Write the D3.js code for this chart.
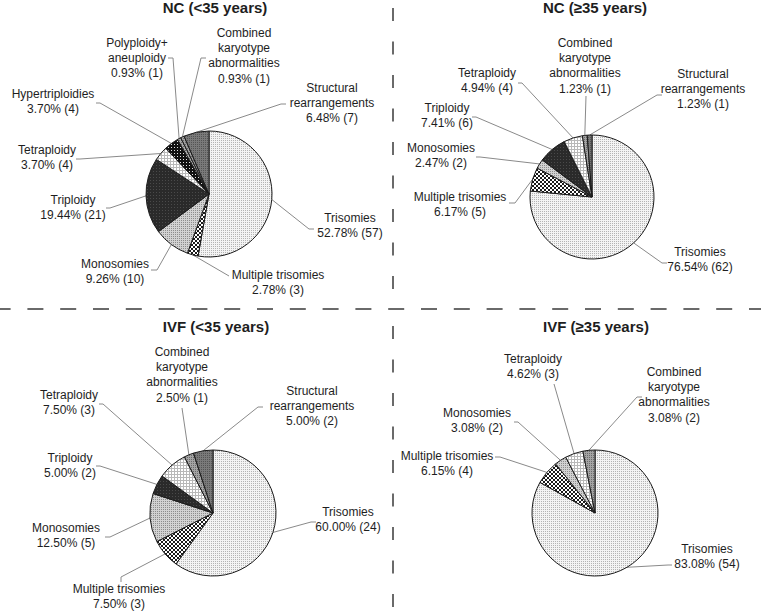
<!DOCTYPE html>
<html>
<head>
<meta charset="utf-8">
<script src="https://cdn.jsdelivr.net/npm/d3@7/dist/d3.min.js"></script>
<style>
  html, body { margin: 0; padding: 0; background: #fff; }
  svg { display: block; }
  text { font-family: "Liberation Sans", Arial, Helvetica, sans-serif; fill: #1e1e1e; }
</style>
</head>
<body>
<svg id="chart" width="761" height="613"></svg>
<script>
// ---------------- DATA ----------------
const categories = [
  "Trisomies", "Multiple trisomies", "Monosomies", "Triploidy", "Tetraploidy",
  "Hypertriploidies", "Polyploidy+ aneuploidy", "Combined karyotype abnormalities",
  "Structural rearrangements"
];
const categoryLines = [
  ["Trisomies"], ["Multiple trisomies"], ["Monosomies"], ["Triploidy"], ["Tetraploidy"],
  ["Hypertriploidies"], ["Polyploidy+", "aneuploidy"], ["Combined", "karyotype", "abnormalities"],
  ["Structural", "rearrangements"]
];
const panelTitles = ["NC (<35 years)", "NC (\u226535 years)", "IVF (<35 years)", "IVF (\u226535 years)"];
const ncYoungCounts  = [57, 3, 10, 21, 4, 4, 1, 1, 7];
const ncOldCounts    = [62, 5, 2, 6, 4, 0, 0, 1, 1];
const ivfYoungCounts = [24, 3, 5, 2, 3, 0, 0, 1, 2];
const ivfOldCounts   = [54, 4, 2, 0, 3, 0, 0, 2, 0];
const panelCounts = [ncYoungCounts, ncOldCounts, ivfYoungCounts, ivfOldCounts];

// ---------------- LAYOUT (positions, not data) ----------------
const layouts = [
  { cx: 209, cy: 194, r: 63, tx: 215, ty: 13, labels: {
      0: { x: 350, y: 222, pts: [[309, 229], [314, 229]] },
      1: { x: 278, y: 279, pts: [[229, 276]] },
      2: { x: 115, y: 268, pts: [[157, 270], [151, 270]] },
      3: { x: 73,  y: 204, pts: [[110, 208], [106, 208]] },
      4: { x: 47,  y: 154, pts: [[80, 159], [76, 159]] },
      5: { x: 53,  y: 98,  pts: [[100, 103], [96, 103]] },
      6: { x: 137, y: 47,  pts: [[173, 58], [168, 58]] },
      7: { x: 244, y: 37,  pts: [[201, 58], [206, 58]] },
      8: { x: 332, y: 92,  pts: [[281, 104], [286, 104]] }
  }},
  { cx: 592, cy: 197, r: 62, tx: 595, ty: 13, labels: {
      0: { x: 700, y: 256, pts: [[662, 263], [667, 263]] },
      1: { x: 460, y: 201, pts: [[515, 203], [509, 203]] },
      2: { x: 441, y: 152, pts: [[480, 157], [476, 157]] },
      3: { x: 447, y: 112, pts: [[476, 117], [472, 117]] },
      4: { x: 487, y: 77,  pts: [[522, 83], [518, 83]] },
      7: { x: 585, y: 47,  pts: [[586, 96]] },
      8: { x: 703, y: 78,  pts: [[657, 95], [662, 95]] }
  }},
  { cx: 213, cy: 513, r: 63, tx: 216, ty: 332, labels: {
      0: { x: 348, y: 516, pts: [[311, 522], [316, 522]] },
      1: { x: 119, y: 593, pts: [[121, 577], [121, 582]] },
      2: { x: 66,  y: 532, pts: [[110, 537], [105, 537]] },
      3: { x: 70,  y: 462, pts: [[100, 466], [96, 466]] },
      4: { x: 69,  y: 399, pts: [[103, 404], [99, 404]] },
      7: { x: 182, y: 356, pts: [[182, 408]] },
      8: { x: 312, y: 395, pts: [[258, 407], [263, 407]] }
  }},
  { cx: 595, cy: 513, r: 63, tx: 596, ty: 332, labels: {
      0: { x: 707, y: 553, pts: [[668, 565], [672, 565]] },
      1: { x: 447, y: 460, pts: [[500, 457], [495, 457]] },
      2: { x: 477, y: 417, pts: [[518, 422], [514, 422]] },
      4: { x: 533, y: 363, pts: [[554, 384]] },
      7: { x: 674, y: 376, pts: [[637, 397], [642, 397]] }
  }}
];

// ---------------- PATTERNS ----------------
const svg = d3.select("#chart");
const defs = svg.append("defs");

function pat(id, w, h, bg, shapes) {
  const p = defs.append("pattern").attr("id", id).attr("patternUnits", "userSpaceOnUse")
    .attr("width", w).attr("height", h);
  p.append("rect").attr("width", w).attr("height", h).attr("fill", bg);
  shapes.forEach(s => p.append("rect").attr("x", s[0]).attr("y", s[1])
    .attr("width", s[2]).attr("height", s[3]).attr("fill", s[4]));
}
// Trisomies: light fine dots
pat("p0", 2, 2, "#f4f4f4", [[0, 0, 1, 1, "#b4b4b4"]]);
// Multiple trisomies: black/white checker
pat("p1", 4, 4, "#ffffff", [[0, 0, 2, 2, "#1a1a1a"], [2, 2, 2, 2, "#1a1a1a"]]);
// Monosomies: light gray fine texture
pat("p2", 2, 2, "#d2d2d2", [[0, 0, 1, 1, "#8c8c8c"]]);
// Triploidy: very dark
pat("p3", 3, 3, "#2a2a2a", [[1, 1, 1, 1, "#4a4a4a"]]);
// Tetraploidy: white with gray grid
pat("p4", 3, 3, "#ffffff", [[0, 0, 3, 1, "#b8b8b8"], [0, 0, 1, 3, "#b8b8b8"]]);
// Hypertriploidies: black with white speckles
pat("p5", 3, 3, "#111111", [[1, 1, 1, 1, "#e0e0e0"]]);
// Polyploidy+aneuploidy: gray
pat("p6", 2, 2, "#a8a8a8", [[0, 0, 1, 1, "#666666"]]);
// Combined: medium gray
pat("p7", 2, 2, "#a4a4a4", [[0, 0, 1, 1, "#6a6a6a"]]);
// Structural: darker gray
pat("p8", 2, 2, "#7a7a7a", [[0, 0, 1, 1, "#545454"]]);

// ---------------- DIVIDERS ----------------
svg.append("line").attr("x1", -5.4).attr("x2", 761).attr("y1", 309).attr("y2", 309)
  .attr("stroke", "#6a6a6a").attr("stroke-width", 2).attr("stroke-dasharray", "16,16.8");
svg.append("line").attr("x1", 393).attr("x2", 393).attr("y1", 8).attr("y2", 295)
  .attr("stroke", "#6a6a6a").attr("stroke-width", 2).attr("stroke-dasharray", "13,20.5");
svg.append("line").attr("x1", 393).attr("x2", 393).attr("y1", 326).attr("y2", 613)
  .attr("stroke", "#6a6a6a").attr("stroke-width", 2).attr("stroke-dasharray", "13,20.5");

// ---------------- PIES ----------------
const pie = d3.pie().sort(null).value(d => d.count);

panelCounts.forEach((counts, pi) => {
  const L = layouts[pi];
  const total = d3.sum(counts);
  const data = counts.map((c, i) => ({ i, count: c })).filter(d => d.count > 0);
  const arcs = pie(data);
  const arc = d3.arc().innerRadius(0).outerRadius(L.r);
  const g = svg.append("g");

  // title
  g.append("text").attr("x", L.tx).attr("y", L.ty).attr("text-anchor", "middle")
    .style("font-size", "15px").style("font-weight", "bold").text(panelTitles[pi]);

  // leader lines
  arcs.forEach(a => {
    const lab = L.labels[a.data.i];
    if (!lab) return;
    const mid = (a.startAngle + a.endAngle) / 2;
    const start = [L.cx + L.r * Math.sin(mid), L.cy - L.r * Math.cos(mid)];
    const pts = [start].concat(lab.pts);
    g.append("path").attr("d", d3.line()(pts)).attr("fill", "none")
      .attr("stroke", "#8a8a8a").attr("stroke-width", 1);
  });

  // slices
  g.append("g").attr("transform", `translate(${L.cx},${L.cy})`)
    .selectAll("path").data(arcs).join("path")
    .attr("d", arc)
    .attr("fill", d => `url(#p${d.data.i})`)
    .attr("stroke", "#1a1a1a").attr("stroke-width", 1).attr("stroke-linejoin", "round");

  // labels
  arcs.forEach(a => {
    const lab = L.labels[a.data.i];
    if (!lab) return;
    const lines = categoryLines[a.data.i].concat(
      [(a.data.count / total * 100).toFixed(2) + "% (" + a.data.count + ")"]);
    const t = g.append("text").attr("text-anchor", "middle").style("font-size", "12px");
    lines.forEach((s, k) => t.append("tspan").attr("x", lab.x).attr("y", lab.y + k * 15.2).text(s));
  });
});
</script>
</body>
</html>
